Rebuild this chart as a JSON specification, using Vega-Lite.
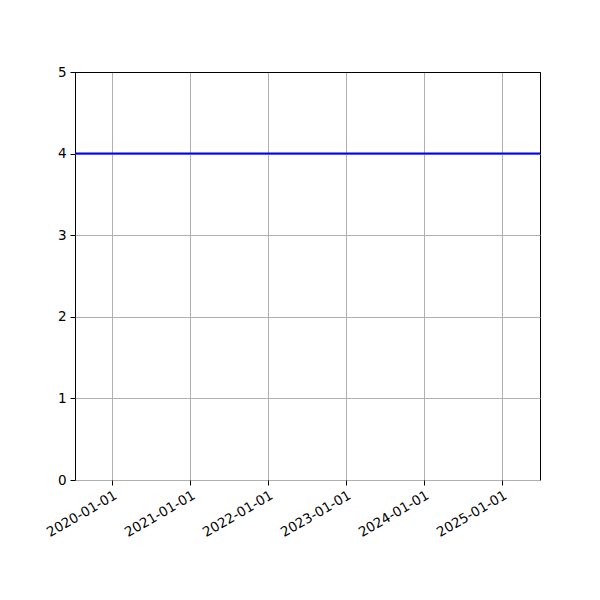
{
  "$schema": "https://vega.github.io/schema/vega-lite/v6.json",
  "autosize": "none",
  "padding": {"left": 75, "top": 72, "right": 60, "bottom": 120},
  "width": 465,
  "height": 408,
  "background": "white",
  "config": {
    "view": {"stroke": "black", "strokeWidth": 1},
    "axis": {
      "labelFont": "DejaVu Sans",
      "labelFontSize": 13.5,
      "labelColor": "black",
      "domain": false,
      "tickColor": "black",
      "tickSize": 5,
      "tickWidth": 1,
      "gridColor": "#b0b0b0",
      "gridWidth": 1,
      "gridOpacity": 1,
      "title": null
    }
  },
  "data": {
    "values": [
      {"date": "2019-07-12", "value": 4},
      {"date": "2025-06-28", "value": 4}
    ]
  },
  "mark": {"type": "line", "color": "blue", "strokeWidth": 2, "clip": true},
  "encoding": {
    "x": {
      "field": "date",
      "type": "temporal",
      "scale": {
        "type": "utc",
        "domain": [
          {"year": 2019, "month": 7, "date": 12, "utc": true},
          {"year": 2025, "month": 6, "date": 28, "utc": true}
        ],
        "nice": false
      },
      "axis": {
        "values": [
          {"year": 2020, "month": 1, "date": 1, "utc": true},
          {"year": 2021, "month": 1, "date": 1, "utc": true},
          {"year": 2022, "month": 1, "date": 1, "utc": true},
          {"year": 2023, "month": 1, "date": 1, "utc": true},
          {"year": 2024, "month": 1, "date": 1, "utc": true},
          {"year": 2025, "month": 1, "date": 1, "utc": true}
        ],
        "labelExpr": "utcFormat(datum.value, '%Y-%m-%d')",
        "labelAngle": -30,
        "labelAlign": "right",
        "labelBaseline": "top",
        "labelPadding": 3,
        "labelOverlap": false
      }
    },
    "y": {
      "field": "value",
      "type": "quantitative",
      "scale": {"domain": [0, 5], "nice": false, "zero": false},
      "axis": {
        "values": [0, 1, 2, 3, 4, 5],
        "labelPadding": 4,
        "gridColor": {"condition": {"test": "datum.value == 5", "value": "black"}, "value": "#b0b0b0"}
      }
    }
  }
}
